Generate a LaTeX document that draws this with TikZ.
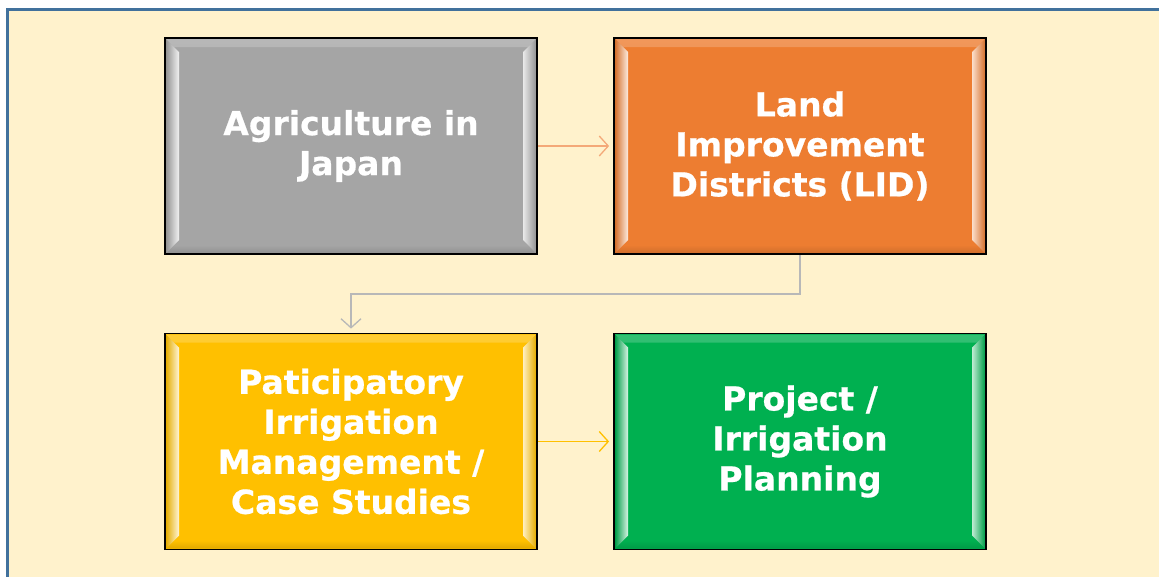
\documentclass[tikz,border=0pt]{standalone}
\usepackage{fontspec}
\setmainfont[FakeBold=0.6]{DejaVu Sans}
\usetikzlibrary{arrows.meta}
\definecolor{bgc}{HTML}{FFF2CC}
\definecolor{framec}{HTML}{41719C}
\definecolor{grayc}{HTML}{A5A5A5}
\definecolor{orangec}{HTML}{ED7D31}
\definecolor{yellowc}{HTML}{FFC000}
\definecolor{greenc}{HTML}{00B050}
\definecolor{orangeln}{HTML}{F4A978}
\definecolor{grayln}{HTML}{B8B8B8}
\tikzset{
  box/.style={draw=black, line width=1.8pt, fill=#1, minimum width=372pt, minimum height=216pt,
    inner sep=0pt, text=white, align=center, font=\fontsize{33}{40}\selectfont\bfseries,
    path picture={
      \shade[top color=#1!80!white, bottom color=#1]
        ([shift={(1pt,-1pt)}]path picture bounding box.north west) --
        ([shift={(-1pt,-1pt)}]path picture bounding box.north east) --
        ([shift={(-9pt,-9pt)}]path picture bounding box.north east) --
        ([shift={(9pt,-9pt)}]path picture bounding box.north west) -- cycle;
      \shade[bottom color=#1!88!black, top color=#1]
        ([shift={(1pt,1pt)}]path picture bounding box.south west) --
        ([shift={(-1pt,1pt)}]path picture bounding box.south east) --
        ([shift={(-9pt,9pt)}]path picture bounding box.south east) --
        ([shift={(9pt,9pt)}]path picture bounding box.south west) -- cycle;
      \shade[left color=#1!90!black, right color=#1!15!white]
        ([shift={(1pt,-1pt)}]path picture bounding box.north west) --
        ([shift={(14pt,-14pt)}]path picture bounding box.north west) --
        ([shift={(14pt,14pt)}]path picture bounding box.south west) --
        ([shift={(1pt,1pt)}]path picture bounding box.south west) -- cycle;
      \shade[right color=#1!90!black, left color=#1!25!white]
        ([shift={(-1pt,-1pt)}]path picture bounding box.north east) --
        ([shift={(-14pt,-14pt)}]path picture bounding box.north east) --
        ([shift={(-14pt,14pt)}]path picture bounding box.south east) --
        ([shift={(-1pt,1pt)}]path picture bounding box.south east) -- cycle;
    }},
  conn/.style={line width=1.3pt, -{Straight Barb[length=9pt,width=20pt,line width=1.3pt]}, shorten >=4pt}
}
\begin{document}
\begin{tikzpicture}[x=1pt,y=-1pt]
\useasboundingbox (0,0) rectangle (1159,576);
\clip (0,0) rectangle (1159,576);
\fill[white] (0,0) rectangle (1159,576);
\draw[fill=bgc, draw=framec, line width=3pt] (7.5,9.5) rectangle (1180,600);
\node[box=grayc] (a) at (351,146) {Agriculture in\\Japan};
\node[box=orangec] (b) at (800,146) {Land\\Improvement\\Districts (LID)};
\node[box=yellowc] (c) at (351,441.5) {Paticipatory\\Irrigation\\Management /\\Case Studies};
\node[box=greenc] (d) at (800,441.5) {Project /\\Irrigation\\Planning};
\draw[conn, draw=orangeln] (a) -- (b);
\draw[conn, draw=grayln] (b.south) -- ++(0,39) -| (c.north);
\draw[conn, draw=yellowc] (c) -- (d);
\end{tikzpicture}
\end{document}
